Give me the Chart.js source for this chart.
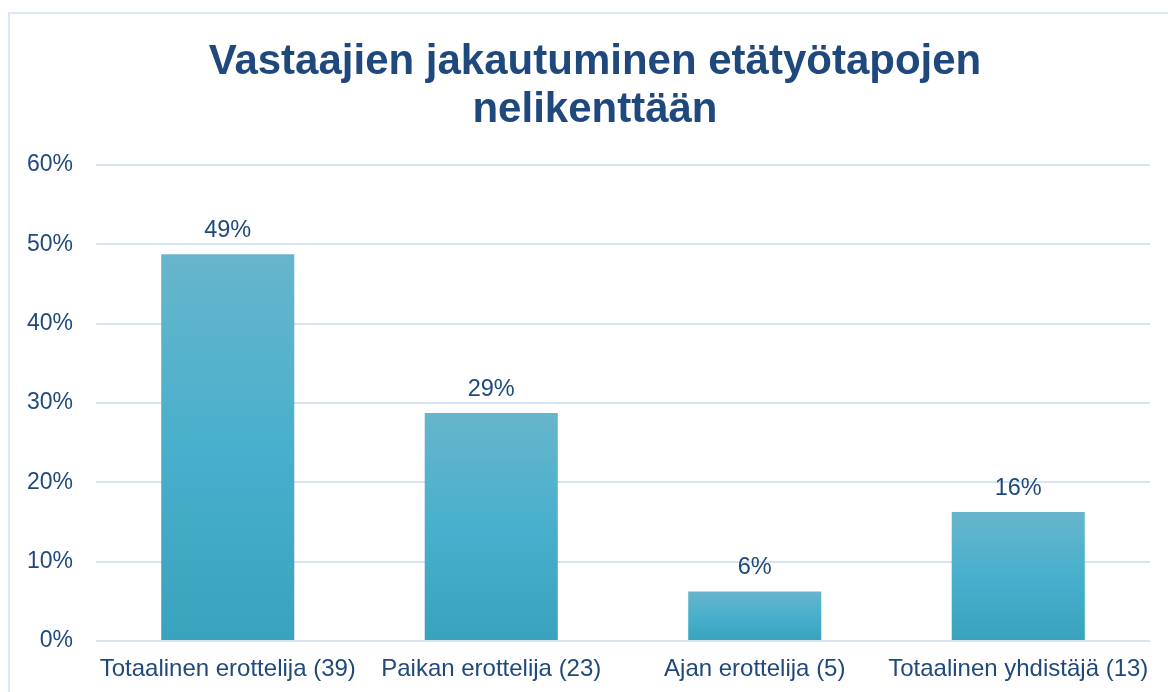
<!DOCTYPE html>
<html>
<head>
<meta charset="utf-8">
<script src="https://cdn.jsdelivr.net/npm/chart.js@4"></script>
<style>
  html, body { margin: 0; padding: 0; background: #fff; }
  #wrap { position: relative; width: 1168px; height: 692px; overflow: hidden; }
  #frame { position: absolute; left: 8px; top: 12px; width: 1200px; height: 720px;
           border: 2px solid #dde8f4; box-sizing: border-box; }
  #title { position: absolute; left: 95px; width: 1000px; top: 36px; text-align: center;
           font: bold 42px/48px "Liberation Sans", Arial, sans-serif; color: #1f497d; }
  canvas { position: absolute; left: 0; top: 0; }
</style>
</head>
<body>
<div id="wrap">
  <div id="frame"></div>
  <canvas id="chart" width="1168" height="692"></canvas>
  <div id="title">Vastaajien jakautuminen etätyötapojen<br>nelikenttään</div>
</div>
<script>
// Chart data
const categories = ['Totaalinen erottelija (39)', 'Paikan erottelija (23)', 'Ajan erottelija (5)', 'Totaalinen yhdistäjä (13)'];
const shares = [48.75, 28.75, 6.25, 16.25];
const valueLabels = ['49%', '29%', '6%', '16%'];
const yTicks = [0, 10, 20, 30, 40, 50, 60];

const textColor = '#1f497d';
const gridColor = '#d6e4f4';
const fontFamily = '"Liberation Sans", Arial, sans-serif';

// each bar gets its own vertical gradient (lighter top, darker bottom)
function barGradient(context) {
    const chart = context.chart;
    const scales = chart.scales;
    if (!scales.y || !chart.chartArea) return '#4ab0cc';
    const top = scales.y.getPixelForValue(context.raw);
    const bottom = scales.y.getPixelForValue(0);
    const g = chart.ctx.createLinearGradient(0, top, 0, bottom);
    g.addColorStop(0, '#67b5cc');
    g.addColorStop(0.5, '#48b0cc');
    g.addColorStop(1, '#39a2bd');
    return g;
}

// value labels above the bars
const valueLabelPlugin = {
    id: 'valueLabels',
    afterDatasetsDraw(chart) {
        const ctx = chart.ctx;
        const meta = chart.getDatasetMeta(0);
        ctx.save();
        ctx.font = '23.5px ' + fontFamily;
        ctx.fillStyle = textColor;
        ctx.textAlign = 'center';
        ctx.textBaseline = 'bottom';
        meta.data.forEach((bar, i) => {
            ctx.fillText(valueLabels[i], bar.x, bar.y - 12);
        });
        ctx.restore();
    }
};

new Chart(document.getElementById('chart'), {
    type: 'bar',
    data: {
        labels: categories,
        datasets: [{
            data: shares,
            backgroundColor: barGradient,
            borderWidth: 0,
            categoryPercentage: 1,
            barPercentage: 0.505
        }]
    },
    options: {
        responsive: false,
        animation: false,
        devicePixelRatio: 1,
        layout: {
            padding: { left: 0, right: 18, top: 165, bottom: 0 }
        },
        plugins: {
            legend: { display: false },
            tooltip: { enabled: false },
            title: { display: false }
        },
        scales: {
            x: {
                afterFit(axis) {
                    axis.height = 51;
                },
                grid: { display: false },
                border: { display: false },
                ticks: {
                    color: textColor,
                    font: { family: fontFamily, size: 24, lineHeight: 1.2 },
                    padding: 6,
                    maxRotation: 0,
                    autoSkip: false
                }
            },
            y: {
                min: 0,
                max: 60,
                afterBuildTicks(axis) {
                    axis.ticks = yTicks.map(v => ({ value: v }));
                },
                afterFit(axis) {
                    axis.width = 96;
                },
                grid: { color: gridColor, lineWidth: 2, drawTicks: false },
                border: { display: false },
                ticks: {
                    color: textColor,
                    font: { family: fontFamily, size: 23 },
                    padding: 23,
                    callback: v => v + '%'
                }
            }
        }
    },
    plugins: [valueLabelPlugin]
});
</script>
</body>
</html>
